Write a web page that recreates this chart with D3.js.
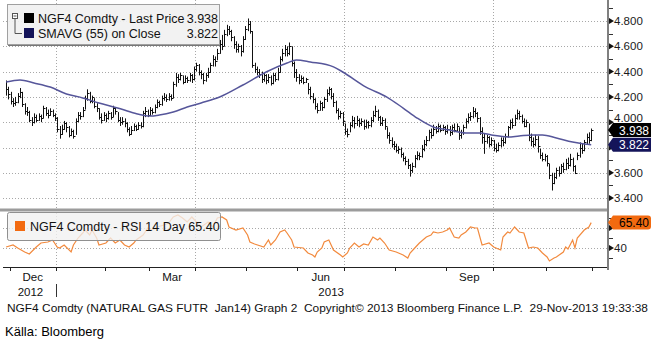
<!DOCTYPE html>
<html><head><meta charset="utf-8">
<script src="https://cdn.jsdelivr.net/npm/d3@7/dist/d3.min.js"></script>
<style>body{margin:0;background:#fff}svg{display:block}text{font-family:"Liberation Sans",Arial,sans-serif}</style>
</head><body><svg id="c" width="653" height="342"></svg>
<script>
// ---- data (one value per trading day, 29-Nov-2012 .. 29-Nov-2013) ----
const closePrice = [
4.26,4.22,4.17,4.15,4.16,4.21,4.24,4.14,4.09,4.08,
4.02,4.00,4.04,4.02,4.05,4.03,4.11,4.07,4.06,4.09,
4.06,4.03,3.95,3.91,3.95,3.99,3.96,3.90,3.93,3.89,
4.01,4.06,4.05,4.10,4.19,4.23,4.17,4.20,4.13,4.11,
4.04,4.02,4.06,4.03,4.07,4.04,4.11,4.09,4.02,4.00,
4.01,3.99,3.95,3.91,3.94,3.97,3.95,3.98,3.97,4.07,
4.09,4.06,4.10,4.08,4.12,4.16,4.14,4.19,4.20,4.18,
4.21,4.19,4.30,4.36,4.34,4.37,4.32,4.35,4.33,4.37,
4.34,4.42,4.45,4.40,4.38,4.33,4.37,4.40,4.45,4.50,
4.48,4.55,4.62,4.60,4.70,4.74,4.72,4.67,4.62,4.58,
4.60,4.56,4.66,4.74,4.78,4.72,4.45,4.42,4.40,4.38,
4.34,4.37,4.33,4.36,4.31,4.37,4.34,4.40,4.50,4.55,
4.58,4.55,4.60,4.47,4.40,4.36,4.33,4.35,4.32,4.34,
4.26,4.21,4.18,4.13,4.10,4.15,4.12,4.18,4.23,4.26,
4.21,4.16,4.10,4.05,4.07,4.01,3.93,3.91,3.98,4.02,
3.99,4.02,3.99,4.01,3.97,4.00,3.98,4.02,4.06,4.09,
4.04,3.99,4.02,3.97,3.90,3.86,3.83,3.81,3.78,3.79,
3.75,3.72,3.69,3.66,3.62,3.65,3.72,3.74,3.73,3.79,
3.83,3.86,3.92,3.90,3.95,3.93,3.97,3.94,3.96,3.93,
3.95,3.92,3.96,3.94,3.97,3.90,3.92,3.96,4.01,4.04,
4.05,4.09,4.07,4.03,3.93,3.88,3.85,3.88,3.83,3.86,
3.80,3.78,3.82,3.86,3.84,3.89,3.96,4.00,3.98,4.03,
4.07,4.05,4.01,3.97,4.00,3.88,3.85,3.83,3.87,3.81,
3.74,3.71,3.73,3.68,3.58,3.52,3.57,3.62,3.60,3.65,
3.63,3.68,3.66,3.71,3.65,3.60,3.74,3.80,3.78,3.84,
3.88,3.86,3.938];
const highPrice = [
4.33,4.28,4.24,4.19,4.20,4.23,4.27,4.24,4.15,4.12,
4.09,4.04,4.07,4.06,4.07,4.06,4.13,4.12,4.10,4.11,
4.10,4.07,4.04,3.97,3.98,4.01,4.00,3.97,3.95,3.94,
4.03,4.08,4.08,4.12,4.21,4.26,4.24,4.21,4.19,4.15,
4.11,4.07,4.08,4.07,4.09,4.08,4.13,4.12,4.08,4.04,
4.04,4.03,4.00,3.96,3.97,3.99,3.98,4.00,4.00,4.09,
4.12,4.10,4.12,4.11,4.14,4.18,4.17,4.21,4.23,4.22,
4.23,4.22,4.32,4.39,4.38,4.39,4.37,4.37,4.36,4.39,
4.38,4.44,4.47,4.46,4.41,4.39,4.39,4.43,4.47,4.53,
4.52,4.58,4.65,4.69,4.73,4.77,4.76,4.73,4.68,4.64,
4.62,4.61,4.68,4.76,4.82,4.80,4.72,4.47,4.44,4.42,
4.40,4.39,4.38,4.38,4.37,4.39,4.39,4.43,4.52,4.58,
4.61,4.60,4.63,4.60,4.48,4.42,4.38,4.37,4.36,4.35,
4.31,4.28,4.23,4.19,4.15,4.17,4.16,4.20,4.26,4.28,
4.27,4.23,4.17,4.11,4.09,4.08,3.99,3.95,4.00,4.05,
4.04,4.05,4.03,4.03,4.02,4.02,4.01,4.04,4.09,4.13,
4.10,4.05,4.04,4.03,3.96,3.92,3.88,3.85,3.83,3.81,
3.80,3.76,3.73,3.71,3.67,3.68,3.74,3.77,3.76,3.82,
3.86,3.89,3.94,3.95,3.98,3.97,3.99,3.98,3.98,3.97,
3.98,3.97,3.98,3.99,3.99,3.96,3.94,3.98,4.03,4.07,
4.08,4.12,4.11,4.08,4.04,3.96,3.91,3.90,3.89,3.88,
3.86,3.83,3.84,3.88,3.88,3.91,3.97,4.02,4.03,4.06,
4.10,4.09,4.06,4.03,4.02,3.99,3.91,3.88,3.90,3.89,
3.79,3.76,3.75,3.74,3.67,3.60,3.60,3.64,3.65,3.67,
3.68,3.71,3.72,3.75,3.72,3.66,3.76,3.84,3.83,3.86,
3.91,3.92,3.95];
const lowPrice = [
4.21,4.18,4.14,4.12,4.13,4.15,4.19,4.12,4.06,4.05,
4.00,3.97,3.99,4.00,4.01,4.00,4.03,4.05,4.03,4.05,
4.04,4.01,3.92,3.87,3.90,3.94,3.92,3.88,3.89,3.87,
3.90,4.00,4.02,4.04,4.10,4.17,4.15,4.15,4.11,4.08,
4.02,3.99,4.01,4.00,4.02,4.02,4.04,4.06,4.00,3.97,
3.98,3.96,3.92,3.89,3.90,3.93,3.93,3.94,3.95,3.96,
4.04,4.04,4.05,4.06,4.07,4.11,4.12,4.13,4.17,4.16,
4.17,4.17,4.19,4.28,4.31,4.33,4.30,4.31,4.31,4.32,
4.31,4.33,4.40,4.37,4.34,4.30,4.32,4.35,4.39,4.44,
4.44,4.49,4.54,4.57,4.60,4.68,4.69,4.64,4.58,4.55,
4.55,4.52,4.55,4.65,4.72,4.70,4.43,4.39,4.37,4.35,
4.31,4.32,4.30,4.31,4.29,4.30,4.32,4.33,4.39,4.48,
4.52,4.52,4.53,4.44,4.35,4.32,4.30,4.31,4.30,4.31,
4.22,4.18,4.15,4.10,4.07,4.09,4.09,4.11,4.16,4.21,
4.18,4.12,4.07,4.02,4.03,3.97,3.90,3.88,3.92,3.96,
3.95,3.97,3.96,3.97,3.94,3.95,3.95,3.96,4.00,4.04,
4.01,3.97,3.97,3.94,3.87,3.83,3.80,3.78,3.76,3.75,
3.72,3.69,3.66,3.63,3.57,3.60,3.64,3.70,3.70,3.72,
3.77,3.81,3.85,3.87,3.89,3.91,3.92,3.92,3.93,3.90,
3.91,3.89,3.90,3.92,3.93,3.86,3.87,3.90,3.95,3.99,
4.01,4.03,4.04,4.00,3.90,3.83,3.75,3.83,3.80,3.81,
3.77,3.76,3.77,3.80,3.81,3.83,3.88,3.94,3.95,3.97,
4.02,4.02,3.99,3.96,3.96,3.85,3.81,3.80,3.81,3.76,
3.71,3.69,3.69,3.65,3.55,3.46,3.51,3.55,3.57,3.59,
3.60,3.62,3.63,3.65,3.61,3.59,3.70,3.72,3.75,3.77,
3.82,3.83,3.85];

// SMAVG(55) at these trading-day indices
const smaDay   = [0,6,12,19,26,33,40,48,55,62,66,72,78,84,92,102,112,121,125,131,141,145,155,164,171,177,184,191,198,204,209,216,221,227,231,237,244,249,252];
const smaValue = [4.318,4.334,4.310,4.278,4.223,4.192,4.152,4.113,4.073,4.049,4.057,4.081,4.120,4.152,4.199,4.294,4.397,4.468,4.492,4.476,4.437,4.397,4.278,4.199,4.112,4.033,3.962,3.938,3.915,3.915,3.899,3.883,3.891,3.899,3.899,3.875,3.843,3.828,3.822];

// RSI 14 day
const rsiDay = [0,3,5,8,10,13,15,18,20,22,23,25,28,29,31,33,34,36,37,39,40,43,45,47,49,51,53,55,56,59,61,63,65,68,70,72,74,76,78,80,82,84,87,89,91,93,95,96,99,102,104,105,107,111,113,114,116,118,120,121,123,124,128,130,132,133,134,136,137,139,141,144,145,147,148,150,152,154,156,158,160,161,163,165,168,171,173,174,176,178,181,183,184,186,188,190,191,193,195,196,198,200,202,203,205,208,210,211,213,214,216,217,219,221,223,225,227,229,231,233,234,236,237,240,241,242,244,245,246,249,251,252];
const rsiValue = [41,43,40,36,34,41,45,46,48,41,40,43,36,43,50,55,58,53,58,50,43,45,50,45,48,43,41,45,48,53,60,58,61,63,65,71,73,70,66,71,66,61,66,61,70,71,68,61,58,60,53,46,44,41,48,43,48,56,58,55,48,41,40,35,33,31,36,40,46,48,38,33,31,35,40,45,41,44,43,51,48,50,45,38,36,33,30,35,40,45,51,53,56,55,56,58,60,51,50,53,56,61,60,60,43,45,41,40,38,51,56,55,61,56,55,40,41,40,35,31,27,30,31,36,41,39,48,40,50,58,61,65.4];

// tick labels ("3.800" and "60" sit fully under the value boxes in the reference)
const priceTicks = [3.4,3.6,3.8,4.0,4.2,4.4,4.6,4.8];
const priceTickLabels = ["3.400","3.600","","4.000","4.200","4.400","4.600","4.800"];
const priceMinorTicks = [3.5,3.7,3.9,4.1,4.3,4.5,4.7,4.9];
const rsiTicks = [40,60];
const rsiTickLabels = ["40",""];
const rsiMinorTicks = [30,50,70];

// first trading-day index of each month (Dec 2012 .. Dec 2013)
const monthStartDay = [2,22,43,62,82,104,126,146,168,190,210,233,253];
const quarterStartDay = [22,82,146,210];
const monthLabels = ["Dec","Mar","Jun","Sep"];
const monthLabelFrom = [2,62,126,190];
const monthLabelTo = [22,82,146,210];
const yearLabels = ["2012","2013"];
const yearLabelDay = [10.5,140];
const yearBreakDay = 22;

const lastPrice = 3.938, lastSma = 3.822, lastRsi = 65.40;
const legendMain = ["NGF4 Comdty - Last Price","SMAVG (55) on Close"];
const legendRsi = "NGF4 Comdty - RSI 14 Day";
const footer = "NGF4 Comdty (NATURAL GAS FUTR  Jan14) Graph 2  Copyright\u00a9 2013 Bloomberg Finance L.P.  29-Nov-2013 19:33:38";
const source = "Källa: Bloomberg";

// ---- drawing ----
const svg = d3.select("#c");
const N = closePrice.length;
const L = 3, R = 607, mainTop = 0, mainBot = 209, rsiTop = 211, rsiBot = 267;
const x = d3.scaleLinear().domain([0, N-1]).range([6.1, 591.2]);
const y = d3.scaleLinear().domain([3.4, 4.8]).range([198.1, 21]);
const yr = d3.scaleLinear().domain([40, 60]).range([248, 228]);
const px = v => Math.round(v) + 0.5;

const defs = svg.append("defs");
defs.append("clipPath").attr("id","cm").append("rect").attr("x",L).attr("y",mainTop).attr("width",R-L).attr("height",mainBot-mainTop);
defs.append("clipPath").attr("id","cr").append("rect").attr("x",L).attr("y",rsiTop).attr("width",R-L).attr("height",rsiBot-rsiTop);

const grid = svg.append("g").attr("stroke","#a8a8a8").attr("stroke-dasharray","1,2").attr("stroke-width",1);
priceTicks.forEach(v => { const yy = px(y(v)); if (yy < mainBot) grid.append("line").attr("x1",L).attr("x2",R).attr("y1",yy).attr("y2",yy); });
rsiTicks.forEach(v => { const yy = px(yr(v)); grid.append("line").attr("x1",L).attr("x2",R).attr("y1",yy).attr("y2",yy); });
quarterStartDay.forEach(d => { const xx = px(x(d-0.5)); grid.append("line").attr("x1",xx).attr("x2",xx).attr("y1",0).attr("y2",rsiBot); });

// price bars
const bars = svg.append("g").attr("clip-path","url(#cm)").attr("stroke","#111").attr("stroke-width",1);
closePrice.forEach((c,i) => {
  const xx = px(x(i));
  bars.append("line").attr("x1",xx).attr("x2",xx).attr("y1",y(highPrice[i])).attr("y2",y(lowPrice[i]));
  const yc = px(y(c));
  bars.append("line").attr("x1",xx-0.5).attr("x2",xx+2).attr("y1",yc).attr("y2",yc);
});

// SMA line
svg.append("path").attr("clip-path","url(#cm)")
  .datum(smaDay.map((d,i)=>[d,smaValue[i]]))
  .attr("fill","none").attr("stroke","#56569a").attr("stroke-width",1.5)
  .attr("d", d3.line().x(d=>x(d[0])).y(d=>y(d[1])).curve(d3.curveMonotoneX));

// RSI line
svg.append("path").attr("clip-path","url(#cr)")
  .datum(rsiDay.map((d,i)=>[d,rsiValue[i]]))
  .attr("fill","none").attr("stroke","#f28a3e").attr("stroke-width",1.2)
  .attr("d", d3.line().x(d=>x(d[0])).y(d=>yr(d[1])));

// panel separator
svg.append("rect").attr("x",0).attr("y",208.5).attr("width",R).attr("height",3).attr("fill","#9c9c9c");

// bottom axis
svg.append("line").attr("x1",L).attr("x2",R).attr("y1",rsiBot+0.5).attr("y2",rsiBot+0.5).attr("stroke","#222");
monthStartDay.forEach(d => { const xx = px(x(d-0.5)); svg.append("line").attr("x1",xx).attr("x2",xx).attr("y1",rsiBot).attr("y2",rsiBot+4).attr("stroke","#222"); });
const ax = svg.append("g").attr("font-size","11.5px").attr("fill","#111").attr("text-anchor","middle");
monthLabels.forEach((m,k) => ax.append("text").attr("x",(x(monthLabelFrom[k]-0.5)+x(monthLabelTo[k]-0.5))/2).attr("y",281).text(m));
yearLabels.forEach((t,k) => ax.append("text").attr("x",x(yearLabelDay[k])).attr("y",296).text(t));
svg.append("line").attr("x1",px(x(yearBreakDay-0.5))).attr("x2",px(x(yearBreakDay-0.5))).attr("y1",284).attr("y2",297).attr("stroke","#333");

// right axis
svg.append("line").attr("x1",608).attr("x2",608).attr("y1",0).attr("y2",rsiBot+3).attr("stroke","#808080").attr("stroke-width",2);
const ra = svg.append("g").attr("font-size","11.5px").attr("fill","#1a1a1a");
priceMinorTicks.forEach(v => { const yy = px(y(v)); if (yy > 2 && yy < mainBot) ra.append("line").attr("x1",609).attr("x2",613).attr("y1",yy).attr("y2",yy).attr("stroke","#333"); });
rsiMinorTicks.forEach(v => { const yy = px(yr(v)); ra.append("line").attr("x1",609).attr("x2",613).attr("y1",yy).attr("y2",yy).attr("stroke","#333"); });
const boxTop = y(lastPrice) - 7;
function major(yy, label){
  ra.append("path").attr("d",`M609,${yy-3}L614,${yy}L609,${yy+3}Z`).attr("fill","#111");
  if (!label) return;
  // a label that would run into the last-price box is lifted just above it
  let base = yy + 4;
  if (base > boxTop && yy - 5 < boxTop) base = boxTop - 1;
  ra.append("text").attr("x",614).attr("y",base).text(label);
}
priceTicks.forEach((v,k) => { const yy = y(v); if (yy < mainBot) major(yy, priceTickLabels[k]); });
rsiTicks.forEach((v,k) => major(yr(v), rsiTickLabels[k]));

function valueBox(yc, fill, color, label, r){
  const x0 = 608, x1 = 651, h = 7;
  svg.append("path").attr("d",`M${x0},${yc}L${x0+5},${yc-h}L${x1-r},${yc-h}Q${x1},${yc-h} ${x1},${yc-h+r}L${x1},${yc+h-r}Q${x1},${yc+h} ${x1-r},${yc+h}L${x0+5},${yc+h}Z`).attr("fill",fill);
  svg.append("text").attr("x",x1-2).attr("y",yc+4.5).attr("text-anchor","end").attr("font-size","12px").attr("fill",color).text(label);
}
valueBox(y(lastPrice), "#000", "#fff", lastPrice.toFixed(3), 0);
valueBox(y(lastSma), "#14145a", "#fff", lastSma.toFixed(3), 0);
valueBox(yr(lastRsi), "#f26a10", "#000", lastRsi.toFixed(2), 3);

// main legend
const lg = svg.append("g");
lg.append("rect").attr("x",7.5).attr("y",4.5).attr("width",212).attr("height",40).attr("fill","#f1f1f1").attr("fill-opacity",0.92).attr("stroke","#a0a0a0");
lg.append("line").attr("x1",8).attr("x2",220).attr("y1",45.5).attr("y2",45.5).attr("stroke","#777");
lg.append("rect").attr("x",12.5).attr("y",13.5).attr("width",5).attr("height",5).attr("fill","#fff").attr("stroke","#555");
lg.append("line").attr("x1",13.5).attr("x2",16.5).attr("y1",16).attr("y2",16).attr("stroke","#555");
lg.append("path").attr("d","M15,19V33.5H22").attr("fill","none").attr("stroke","#555");
lg.append("rect").attr("x",24).attr("y",13).attr("width",10).attr("height",10).attr("fill","#000");
lg.append("rect").attr("x",24).attr("y",28).attr("width",10).attr("height",10).attr("fill","#14145a");
const lt = lg.append("g").attr("font-size","12.5px").attr("fill","#111");
lt.append("text").attr("x",38).attr("y",23).text(legendMain[0]);
lt.append("text").attr("x",38).attr("y",38).text(legendMain[1]);
lt.append("text").attr("x",218).attr("y",23).attr("text-anchor","end").text(lastPrice.toFixed(3));
lt.append("text").attr("x",218).attr("y",38).attr("text-anchor","end").text(lastSma.toFixed(3));

// RSI legend
const lr = svg.append("g");
lr.append("rect").attr("x",7.5).attr("y",212.5).attr("width",213).attr("height",28).attr("rx",2).attr("fill","#f1f1f1").attr("fill-opacity",0.78).attr("stroke","#909090");
lr.append("rect").attr("x",15).attr("y",221).attr("width",10).attr("height",10).attr("fill","#f26a10");
lr.append("text").attr("x",30).attr("y",231).attr("font-size","12.5px").attr("fill","#111").text(legendRsi + " " + lastRsi.toFixed(2));

// footer
svg.append("text").attr("x",7).attr("y",312).attr("font-size","11.5px").attr("fill","#111")
  .attr("textLength",641).attr("lengthAdjust","spacingAndGlyphs").style("white-space","pre").text(footer);
svg.append("text").attr("x",5).attr("y",336).attr("font-size","13px").attr("fill","#000").text(source);
</script></body></html>
